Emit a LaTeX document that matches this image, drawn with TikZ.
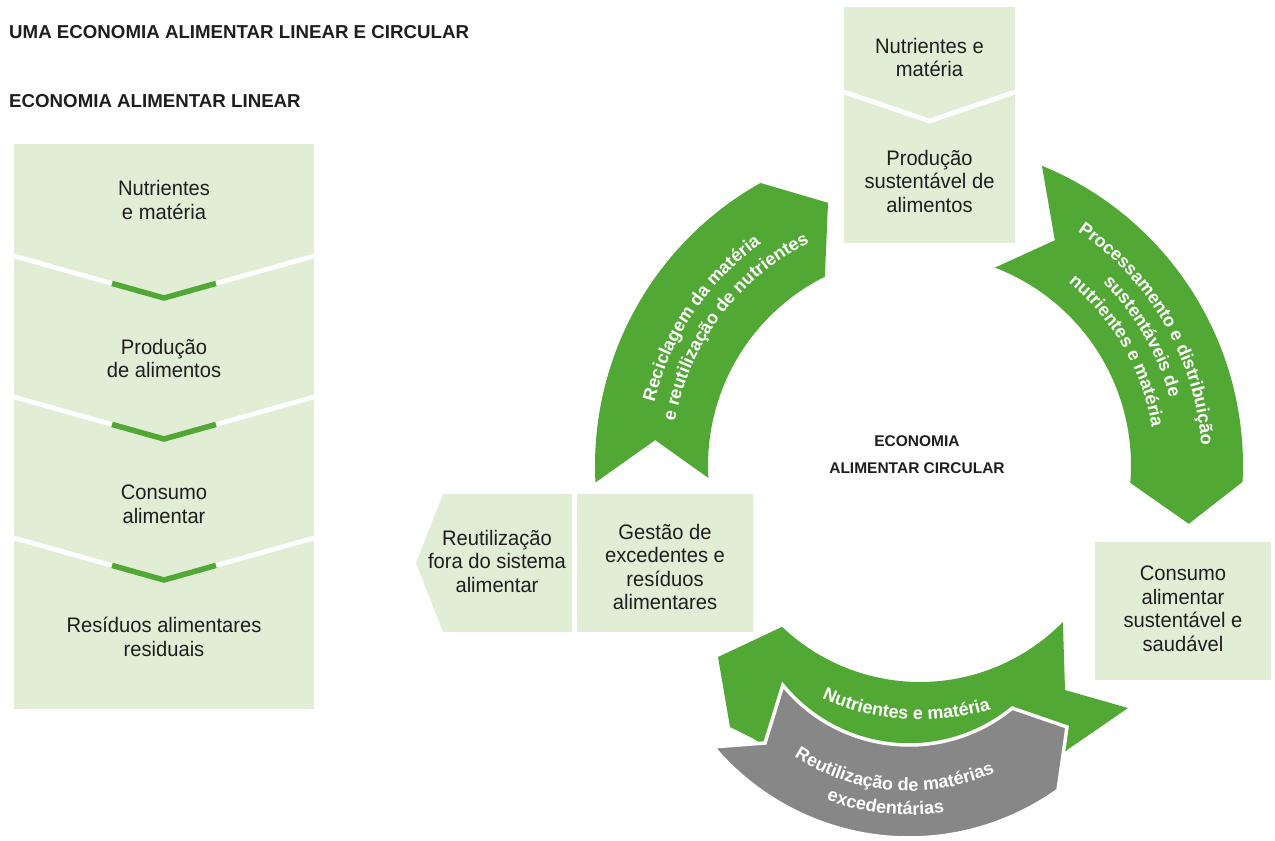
\documentclass[tikz,border=0pt]{standalone}
\usepackage{fontspec}
\setmainfont{Liberation Sans}[FakeStretch=0.96]
\newfontfamily\hdfont{Liberation Sans}
\usetikzlibrary{decorations.text}

\definecolor{leafgreen}{RGB}{82,168,52}
\definecolor{palegreen}{RGB}{226,237,214}
\definecolor{stonegray}{RGB}{135,135,135}
\definecolor{inkblack}{RGB}{30,30,30}

\newcommand{\bodytxt}{\fontsize{21}{23.5}\selectfont}
\newcommand{\headtxt}{\hdfont\bfseries\fontsize{18.7}{22}\selectfont}
\newcommand{\centretxt}{\hdfont\bfseries\fontsize{15.5}{27}\selectfont}
\newcommand{\bandtxt}{\hdfont\bfseries\fontsize{18}{20}\selectfont}

\begin{document}
\begin{tikzpicture}[x=1pt, y=-1pt,
  panel/.style={fill=palegreen, draw=none, inner sep=0pt, outer sep=0pt, anchor=north west},
  stagetext/.style={font=\bodytxt, text=inkblack, align=center, inner sep=0pt},
  sepwhite/.style={draw=white, line width=4.7pt},
  sepgreen/.style={draw=leafgreen, line width=5.5pt},
  headline/.style={anchor=base west, font=\headtxt, text=inkblack, inner sep=0pt},
  bandpath/.style={decorate, decoration={text along path, text align=center,
    text color=white, text={|\bandtxt|#1}}}
]
\useasboundingbox (0,0) rectangle (1275,841);

% centres of the ring arcs
\def\ringx{919}\def\ringy{465.5}
\def\lowx{920}\def\lowy{482}
\def\grayx{909}\def\grayy{582}

% ---------- titles ----------
\node[headline] (title) at (9,38) {UMA ECONOMIA ALIMENTAR LINEAR E CIRCULAR};
\node[headline] (subtitle) at (9,107) {ECONOMIA ALIMENTAR LINEAR};

% ---------- linear column ----------
\node[panel, minimum width=300pt, minimum height=565pt] (linpanel) at (14,144) {};
\foreach \e in {256,397,538} {
  \draw[sepwhite] (14,\e) -- ({164},{\e+42}) -- (314,\e);
  \draw[sepgreen] ({112},{\e+27.4}) -- ({164},{\e+42}) -- ({216},{\e+27.4});
}
\node[stagetext] (lin1) at (164,200) {Nutrientes\\e matéria};
\node[stagetext] (lin2) at (164,358.5) {Produção\\de alimentos};
\node[stagetext] (lin3) at (164,504.5) {Consumo\\alimentar};
\node[stagetext] (lin4) at (164,637) {Resíduos alimentares\\residuais};

% ---------- circular boxes ----------
\node[panel, minimum width=171pt, minimum height=236pt] (cirpanel) at (844,7) {};
\draw[sepwhite] (844,92) -- (929.5,121) -- (1015,92);
\node[stagetext] (cir1) at (929.5,57.5) {Nutrientes e\\matéria};
\node[stagetext] (cir2) at (929.5,181) {Produção\\sustentável de\\alimentos};

\fill[palegreen] (443,494) -- (572,494) -- (572,632) -- (443,632) -- (416,563) -- cycle;
\node[stagetext] (reuse) at (497,561) {Reutilização\\fora do sistema\\alimentar};
\node[panel, minimum width=176pt, minimum height=138pt] (gestpanel) at (577,494) {};
\node[stagetext] (gest) at (665,567) {Gestão de\\excedentes e\\resíduos\\alimentares};
\node[panel, minimum width=176pt, minimum height=138pt] (conspanel) at (1095,542) {};
\node[stagetext] (cons) at (1183,609) {Consumo\\alimentar\\sustentável e\\saudável};

\node[font=\centretxt, text=inkblack, align=center, inner sep=0pt] (core) at (917,455)
  {ECONOMIA\\ALIMENTAR CIRCULAR};

% ---------- left ring arrow ----------
\fill[leafgreen]
  plot[domain=177:240.7, samples=60] ({\ringx+324*cos(\x)},{\ringy+324*sin(\x)})
  -- ({\ringx+278*cos(250.9)},{\ringy+278*sin(250.9)})
  -- plot[domain=243.5:176.6, samples=60] ({\ringx+211*cos(\x)},{\ringy+211*sin(\x)})
  -- ({\ringx+265*cos(185.5)},{\ringy+265*sin(185.5)})
  -- cycle;
\path[bandpath={Reciclagem da matéria}]
  plot[domain=174:254, samples=90] ({\ringx+272*cos(\x)},{\ringy+272*sin(\x)});
\path[bandpath={e reutilização de nutrientes}]
  plot[domain=177:257, samples=90] ({\ringx+248*cos(\x)},{\ringy+248*sin(\x)});

% ---------- right ring arrow ----------
\fill[leafgreen]
  plot[domain=292.3:362.9, samples=60] ({\ringx+324*cos(\x)},{\ringy+324*sin(\x)})
  -- ({\ringx+276*cos(372.2)},{\ringy+276*sin(372.2)})
  -- plot[domain=364.7:291, samples=60] ({\ringx+212*cos(\x)},{\ringy+212*sin(\x)})
  -- ({\ringx+263*cos(301.1)},{\ringy+263*sin(301.1)})
  -- cycle;
\path[bandpath={Processamento e distribuição}]
  plot[domain=290:370, samples=90] ({\ringx+283*cos(\x)},{\ringy+283*sin(\x)});
\path[bandpath={sustentáveis de}]
  plot[domain=290:370, samples=90] ({\ringx+259.5*cos(\x)},{\ringy+259.5*sin(\x)});
\path[bandpath={nutrientes e matéria}]
  plot[domain=290:370, samples=90] ({\ringx+236*cos(\x)},{\ringy+236*sin(\x)});

% ---------- lower green arrow ----------
\fill[leafgreen] (718,657)
  -- plot[domain=133.6:44.4, samples=60] ({\lowx+200*cos(\x)},{\lowy+200*sin(\x)})
  -- (1065,690) -- (1128,708) -- (1067,750)
  -- plot[domain=61.3:123, samples=40] ({\lowx+306*cos(\x)},{\lowy+306*sin(\x)})
  -- (730,727) -- cycle;
\path[bandpath={Nutrientes e matéria}]
  plot[domain=134:53, samples=90] ({\lowx+238*cos(\x)},{\lowy+238*sin(\x)});

% ---------- lower gray arrow ----------
\filldraw[fill=stonegray, draw=white, line width=3.5pt, line join=miter]
  ({\grayx+256*cos(139.9)},{\grayy+256*sin(139.9)}) -- (765,743)
  -- plot[domain=140.7:50.7, samples=60] ({\grayx+163*cos(\x)},{\grayy+163*sin(\x)})
  -- (1067,727)
  -- plot[domain=54.4:139.9, samples=60] ({\grayx+256*cos(\x)},{\grayy+256*sin(\x)})
  -- cycle;
\path[bandpath={Reutilização de matérias}]
  plot[domain=140:49, samples=90] ({\grayx+209*cos(\x)},{\grayy+209*sin(\x)});
\path[bandpath={excedentárias}]
  plot[domain=141:51, samples=90] ({\grayx+233*cos(\x)},{\grayy+233*sin(\x)});
\end{tikzpicture}
\end{document}
